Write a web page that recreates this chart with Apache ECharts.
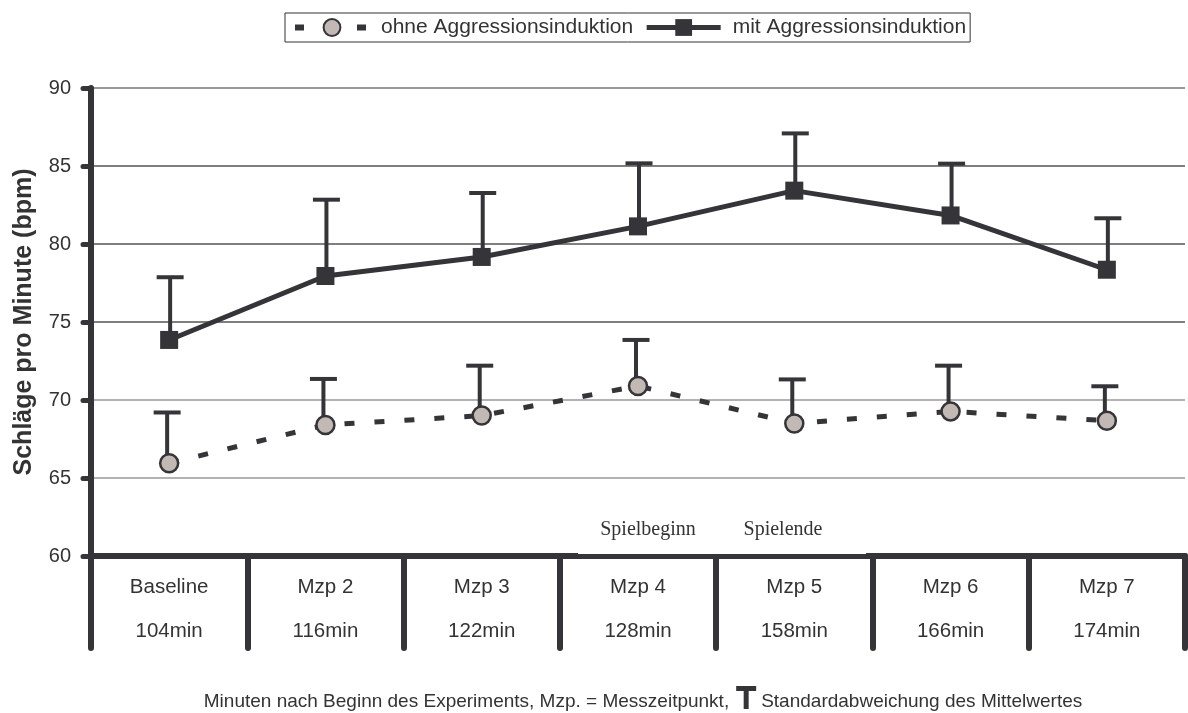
<!DOCTYPE html>
<html>
<head>
<meta charset="utf-8">
<script src="https://cdn.jsdelivr.net/npm/echarts@6/dist/echarts.min.js"></script>
<style>html,body{margin:0;padding:0;background:#fff}#c{width:1188px;height:713px}</style>
</head>
<body>
<div id="c"></div>
<script>
const categories = ['Baseline', 'Mzp 2', 'Mzp 3', 'Mzp 4', 'Mzp 5', 'Mzp 6', 'Mzp 7'];
const minutes = ['104min', '116min', '122min', '128min', '158min', '166min', '174min'];
const ohneMean = [65.95, 68.4, 69.0, 70.9, 68.5, 69.27, 68.67];
const ohneUpper = [69.2, 71.35, 72.2, 73.85, 71.32, 72.2, 70.88];
const mitMean = [73.85, 77.95, 79.17, 81.13, 83.42, 81.83, 78.35];
const mitUpper = [77.87, 82.84, 83.27, 85.17, 87.09, 85.15, 81.65];
const yTicks = [60, 65, 70, 75, 80, 85, 90];
const seriesNames = ['ohne Aggressionsinduktion', 'mit Aggressionsinduktion'];
const captionLeft = 'Minuten nach Beginn des Experiments, Mzp. = Messzeitpunkt,';
const captionRight = 'Standardabweichung des Mittelwertes';

const dark = '#353438';
const FONT = '"Liberation Sans", Arial, sans-serif';

function errBar(means, uppers, dx) {
  return {
    type: 'custom',
    z: 1,
    silent: true,
    data: means.map((m, i) => [i, m, uppers[i]]),
    renderItem: function (params, api) {
      const p0 = api.coord([api.value(0), api.value(1)]);
      const p1 = api.coord([api.value(0), api.value(2)]);
      const x = p0[0] + dx;
      return {
        type: 'group',
        children: [
          { type: 'line', shape: { x1: x, y1: p0[1], x2: x, y2: p1[1] }, style: { stroke: dark, lineWidth: 4 } },
          { type: 'line', shape: { x1: x - 13.5, y1: p1[1], x2: x + 13.5, y2: p1[1] }, style: { stroke: dark, lineWidth: 4 } }
        ]
      };
    }
  };
}

// caption layout (text left, drawn "T" symbol, text right), centred
const capFont = '19px "Liberation Sans", Arial, sans-serif';
const mctx = document.createElement('canvas').getContext('2d');
mctx.font = capFont;
const w1 = mctx.measureText(captionLeft).width;
const w2 = mctx.measureText(captionRight).width;
const tW = 20, gapL = 7, gapR = 5;
const capTotal = w1 + gapL + tW + gapR + w2;
const capX0 = 643 - capTotal / 2;
const tX = capX0 + w1 + gapL;
const capMid = 702;

const chart = echarts.init(document.getElementById('c'), null, { renderer: 'canvas' });
chart.setOption({
  animation: false,
  backgroundColor: '#fff',
  textStyle: { fontFamily: FONT },
  legend: {
    left: 285, top: 13,
    itemWidth: 74, itemHeight: 21, itemGap: 11,
    padding: [4, 4, 4, 7],
    borderColor: '#333', borderWidth: 1,
    lineStyle: { width: 'inherit' },
    textStyle: { fontSize: 21, color: '#333', fontFamily: FONT, padding: [0, 0, 0, 7] },
    data: [
      { name: seriesNames[0], lineStyle: { width: 6, type: [9, 53] } },
      { name: seriesNames[1], lineStyle: { width: 5 } }
    ]
  },
  grid: { left: 91, right: 3, top: 88, bottom: 157 },
  xAxis: {
    type: 'category',
    data: categories,
    boundaryGap: true,
    axisLine: { lineStyle: { color: dark, width: 6, cap: 'round' } },
    axisTick: { show: true, length: 92, alignWithLabel: false, lineStyle: { color: dark, width: 6, cap: 'round' } },
    axisLabel: {
      margin: 9,
      interval: 0,
      formatter: function (v, i) { return '{a|' + v + '}\n{a|' + minutes[i] + '}'; },
      rich: { a: { fontSize: 20.5, color: '#333', lineHeight: 44, fontFamily: FONT } }
    },
    splitLine: { show: false }
  },
  yAxis: {
    type: 'value',
    min: yTicks[0], max: yTicks[yTicks.length - 1], interval: 5,
    name: 'Schläge pro Minute (bpm)',
    nameLocation: 'middle',
    nameGap: 54,
    nameTextStyle: { fontSize: 25, fontWeight: 'bold', color: '#333', fontFamily: FONT },
    axisLine: { show: true, lineStyle: { color: dark, width: 6, cap: 'round' } },
    axisTick: { show: true, length: 8, lineStyle: { color: dark, width: 5, cap: 'round' } },
    axisLabel: { margin: 20, fontSize: 20, color: '#333', fontFamily: FONT },
    splitLine: { show: true, lineStyle: { color: ['#999', '#999', '#999', '#555', '#555', '#555', '#777'], width: 1.5 } }
  },
  series: [
    errBar(ohneMean, ohneUpper, -2),
    errBar(mitMean, mitUpper, 1),
    {
      name: seriesNames[0],
      type: 'line',
      z: 3,
      data: ohneMean,
      symbol: 'circle',
      symbolSize: 18,
      lineStyle: { color: dark, width: 5, type: [10, 20] },
      itemStyle: { color: '#c2b8b4', borderColor: dark, borderWidth: 2.5 }
    },
    {
      name: seriesNames[1],
      type: 'line',
      z: 3,
      data: mitMean,
      symbol: 'rect',
      symbolSize: 18,
      lineStyle: { color: dark, width: 5 },
      itemStyle: { color: dark, borderColor: dark, borderWidth: 0 }
    }
  ],
  graphic: [
    { type: 'rect', z: 100, shape: { x: 578, y: 508, width: 288, height: 46 }, style: { fill: '#fff' } },
    { type: 'text', z: 101, x: 648, y: 530, style: { text: 'Spielbeginn', font: '20px "Liberation Serif", "Times New Roman", serif', fill: '#333', textAlign: 'center', textVerticalAlign: 'middle' } },
    { type: 'text', z: 101, x: 783, y: 530, style: { text: 'Spielende', font: '20px "Liberation Serif", "Times New Roman", serif', fill: '#333', textAlign: 'center', textVerticalAlign: 'middle' } },
    { type: 'text', z: 101, x: capX0, y: capMid, style: { text: captionLeft, font: capFont, fill: '#333', textAlign: 'left', textVerticalAlign: 'middle' } },
    { type: 'text', z: 101, x: tX + tW + gapR, y: capMid, style: { text: captionRight, font: capFont, fill: '#333', textAlign: 'left', textVerticalAlign: 'middle' } },
    { type: 'rect', z: 101, shape: { x: tX, y: 686, width: tW, height: 5 }, style: { fill: dark } },
    { type: 'rect', z: 101, shape: { x: tX + tW / 2 - 2.5, y: 686, width: 5, height: 23 }, style: { fill: dark } }
  ]
});
</script>
</body>
</html>
